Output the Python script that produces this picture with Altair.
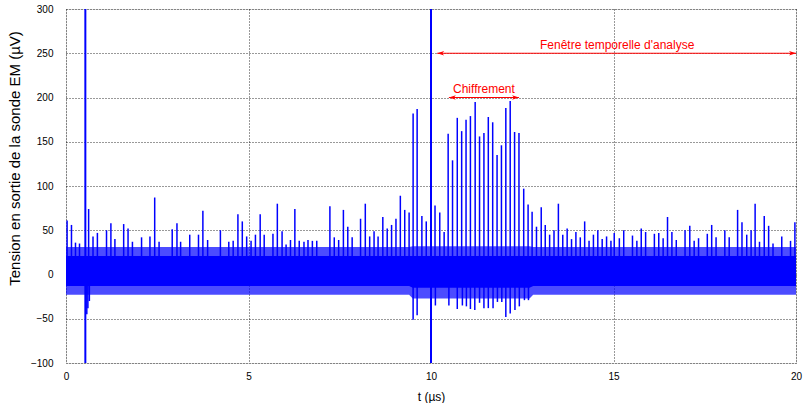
import altair as alt
import pandas as pd

# upward spikes (time in µs, peak in µV)
up_t = [0.03, 0.15, 0.26, 0.37, 0.62, 0.74, 0.86, 1.11, 1.23, 1.34, 1.58, 1.70, 1.82, 2.07, 2.30, 2.43,
        2.55, 2.91, 3.04, 3.14, 3.39, 3.63, 3.75, 3.88, 4.23, 4.46, 4.58, 4.71, 4.83, 4.95, 5.07,
        5.19, 5.32, 5.43, 5.67, 5.79, 5.92, 6.03, 6.15, 6.27, 6.39, 6.52, 6.63, 6.75, 6.87, 7.23,
        7.35, 7.47, 7.60, 7.72, 7.84, 8.07, 8.20, 8.32, 8.44, 8.55, 8.68, 8.80, 8.92, 9.04, 9.16,
        9.28, 9.40, 9.51, 9.62, 9.75, 9.87, 10.11, 10.24, 10.36, 10.47, 10.59, 10.72, 10.84, 10.96,
        11.08, 11.21, 11.33, 11.45, 11.57, 11.69, 11.81, 11.93, 12.05, 12.17, 12.29, 12.41, 12.54,
        12.66, 12.77, 12.89, 13.02, 13.13, 13.25, 13.37, 13.49, 13.61, 13.73, 13.85, 13.97, 14.09,
        14.21, 14.33, 14.45, 14.57, 14.69, 14.81, 14.93, 15.02, 15.16, 15.28, 15.52, 15.64, 15.76,
        15.88, 16.12, 16.24, 16.36, 16.48, 16.60, 16.72, 16.96, 17.09, 17.21, 17.33, 17.57, 17.69,
        17.81, 18.05, 18.17, 18.40, 18.52, 18.65, 18.77, 18.88, 19.00, 19.13, 19.25, 19.37, 19.61,
        19.85, 19.97]
up_v = [61, 56, 36, 35, 74, 43, 47, 50, 58, 40, 57, 52, 37, 42, 43, 87,
        37, 51, 58, 37, 45, 45, 72, 39, 50, 37, 38, 68, 60, 43, 38,
        45, 68, 45, 46, 80, 49, 34, 39, 74, 38, 37, 39, 38, 38, 77,
        42, 39, 73, 54, 42, 63, 80, 43, 49, 43, 65, 52, 56, 63, 89,
        73, 70, 182, 187, 66, 60, 78, 70, 48, 159, 129, 177, 162, 175,
        179, 195, 156, 160, 178, 172, 135, 146, 188, 196, 161, 160, 97,
        79, 71, 54, 76, 56, 45, 50, 80, 45, 52, 40, 48, 42,
        60, 38, 45, 50, 40, 43, 38, 47, 41, 50, 44, 38, 52,
        48, 46, 47, 41, 65, 48, 39, 50, 55, 38, 41, 46, 56,
        42, 50, 42, 73, 59, 45, 50, 80, 37, 66, 55, 35, 43,
        38, 59]

# downward spikes
down_t = [0.57, 0.60, 0.64, 9.51, 9.62, 10.12, 10.49, 10.72, 10.86, 10.97, 11.08, 11.20, 11.33,
          11.45, 11.57, 11.70, 11.82, 11.94, 12.05, 12.17, 12.30, 12.42, 12.56, 12.67]
down_v = [-45, -38, -30, -51, -46, -35, -35, -39, -35, -36, -39, -40, -32,
          -38, -38, -38, -31, -31, -48, -44, -40, -36, -29, -29]

# saturated spikes
big_t = [0.53, 10.0]
big_lo = [-100, -100]
big_hi = [300, 300]

# noise band envelope
env_t = [0, 9.4, 9.5, 12.7, 12.8, 20]
core_lo = [-13, -13, -15, -15, -13, -13]
core_hi = [21, 21, 21, 21, 21, 21]
fringe_lo = [-23, -23, -27, -27, -23, -23]
fringe_hi = [31, 31, 32, 32, 31, 31]

# annotations
arrow_label = ["Fenêtre temporelle d'analyse", "Chiffrement"]
arrow_x1 = [10.17, 10.49]
arrow_x2 = [20.0, 12.41]
arrow_y = [250, 200]
label_x = [15.1, 11.45]
label_y = [255, 205]

BLUE = "#0000ff"
RED = "#ff0000"
FONT = "Liberation Sans"

grid_style = dict(grid=True, gridColor="#000000", gridDash=[1, 2], gridWidth=1, gridOpacity=0.8)

xscale = alt.Scale(domain=[0, 20], nice=False, zero=False)
yscale = alt.Scale(domain=[-100, 300], nice=False, zero=False)
xaxis = alt.Axis(values=[0, 5, 10, 15, 20], title="t (µs)", ticks=False, tickSize=0, domain=False,
                 labelPadding=8, titleY=33, titleBaseline="middle", format="d", labelFlush=False,
                 titleFontWeight="normal", titleFont=FONT, titleFontSize=12, **grid_style)
yaxis = alt.Axis(values=[-100, -50, 0, 50, 100, 150, 200, 250, 300],
                 title="Tension en sortie de la sonde EM (µV)", ticks=False, tickSize=0, domain=False,
                 labelPadding=13, titleX=-52, titleY=149, titleBaseline="middle", titleFontSize=15,
                 format="d", labelFlush=False, titleFontWeight="normal", titleFont=FONT, **grid_style)

env = pd.DataFrame({"t": env_t, "clo": core_lo, "chi": core_hi, "flo": fringe_lo, "fhi": fringe_hi})
up = pd.DataFrame({"t": up_t, "v": up_v, "base": [0] * len(up_t)})
down = pd.DataFrame({"t": down_t, "v": down_v, "base": [0] * len(down_t)})
big = pd.DataFrame({"t": big_t, "lo": big_lo, "hi": big_hi})
ann = pd.DataFrame({"label": arrow_label, "x1": arrow_x1, "x2": arrow_x2, "y": arrow_y,
                    "lx": label_x, "ly": label_y})

X = lambda f: alt.X(f, type="quantitative", scale=xscale, axis=xaxis)
Y = lambda f: alt.Y(f, type="quantitative", scale=yscale, axis=yaxis)

fringe = alt.Chart(env).mark_area(color=BLUE, opacity=0.7).encode(
    x=X("t"), y=Y("flo"), y2="fhi")
core = alt.Chart(env).mark_area(color=BLUE, opacity=1).encode(
    x=X("t"), y=Y("clo"), y2="chi")
ups = alt.Chart(up).mark_rule(color=BLUE, strokeWidth=1.5).encode(
    x=X("t"), y=Y("base"), y2="v")
downs = alt.Chart(down).mark_rule(color=BLUE, strokeWidth=1.5).encode(
    x=X("t"), y=Y("base"), y2="v")
bigs = alt.Chart(big).mark_rule(color=BLUE, strokeWidth=2).encode(
    x=X("t"), y=Y("lo"), y2="hi")

arrows = alt.Chart(ann).mark_rule(color=RED, strokeWidth=1).encode(
    x=X("x1"), x2="x2", y=Y("y"))
left_head = alt.Chart(ann).mark_point(
    shape="M0,0L2.2,-0.7L1.6,0L2.2,0.7Z", filled=True, color=RED, size=40, opacity=1).encode(
    x=X("x1"), y=Y("y"))
right_head = alt.Chart(ann).mark_point(
    shape="M0,0L-2.2,-0.7L-1.6,0L-2.2,0.7Z", filled=True, color=RED, size=40, opacity=1).encode(
    x=X("x2"), y=Y("y"))
labels = alt.Chart(ann).mark_text(color=RED, font=FONT, fontSize=12, baseline="alphabetic",
                                  align="center").encode(
    x=X("lx"), y=Y("ly"), text="label:N")

chart = alt.layer(fringe, core, ups, downs, bigs, arrows, left_head, right_head, labels).properties(
    width=730, height=354,
    padding={"left": 66, "top": 9, "right": 13, "bottom": 40},
    autosize=alt.AutoSizeParams(type="none"),
).configure_view(stroke="black", strokeWidth=1).configure_axis(
    labelFont=FONT, titleFont=FONT, labelFontSize=12, titleFontSize=12, titleFontWeight="normal",
    labelColor="black", titleColor="black",
).configure(background="white")

chart.save("out.html", embed_options={"renderer": "svg", "actions": False})
